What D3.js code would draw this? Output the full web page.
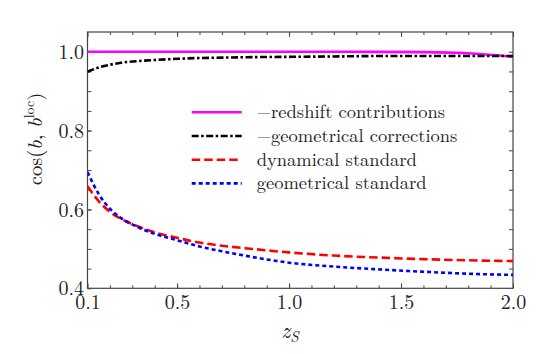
<!DOCTYPE html>
<html>
<head>
<meta charset="UTF-8" />
<script src="https://d3js.org/d3.v7.min.js"></script>
<style>
  body { margin: 0; background: #fff; }
</style>
</head>
<body>
<div id="chart"></div>
<script type="text/javascript">

// redshift of the source
var zS = [0.1, 0.15, 0.2, 0.25, 0.3, 0.4, 0.5, 0.6, 0.7, 0.8, 1.0, 1.2, 1.4, 1.6, 1.8, 2.0];

// series values
var redshiftContrib = [1.0, 1.0, 1.0, 1.0, 1.0, 1.0, 1.0, 1.0, 1.0, 1.0, 1.0, 0.9998, 0.9995, 0.999, 0.996, 0.987];
var geomCorrections = [0.949, 0.960, 0.967, 0.972, 0.975, 0.979, 0.982, 0.984, 0.985, 0.986, 0.987, 0.988, 0.989, 0.989, 0.989, 0.989];
var dynStandard     = [0.659, 0.621, 0.594, 0.576, 0.563, 0.542, 0.528, 0.516, 0.508, 0.502, 0.491, 0.483, 0.478, 0.474, 0.471, 0.469];
var geomStandard    = [0.695, 0.639, 0.602, 0.578, 0.562, 0.538, 0.522, 0.506, 0.494, 0.483, 0.465, 0.455, 0.448, 0.442, 0.437, 0.434];

var seriesNames = ["\u2212redshift contributions", "\u2212geometrical corrections", "dynamical standard", "geometrical standard"];

// tick labels
var xTickLabels = [0.1, 0.5, 1.0, 1.5, 2.0];
var yTickLabels = [0.4, 0.6, 0.8, 1.0];

var FONT = "'Latin Modern Roman', 'Liberation Serif', serif";

var margin = {top: 32, right: 33, bottom: 65.7, left: 87.5},
    width = 546 - margin.left - margin.right,
    height = 354 - margin.top - margin.bottom;

var svg = d3.select("div#chart")
  .append("svg")
    .attr("width", 546)
    .attr("height", 354)
  .append("g")
    .attr("transform", "translate(" + margin.left + "," + margin.top + ")");

var x = d3.scaleLinear().domain([0.1, 2.0]).range([0, width]);
var y = d3.scaleLinear().domain([0.4, 1.05]).range([height, 0]);

var axisColor = "#444";

// minor ticks
var xMinor = d3.range(2, 20).map(function(d) { return d / 10; });
var yMinor = d3.range(9, 21).map(function(d) { return d / 20; });

svg.append("g")
  .attr("transform", "translate(0," + height + ")")
  .call(d3.axisBottom(x).tickValues(xMinor).tickSize(-3).tickFormat(""));
svg.append("g")
  .call(d3.axisTop(x).tickValues(xMinor).tickSize(-3).tickFormat(""));
svg.append("g")
  .call(d3.axisLeft(y).tickValues(yMinor).tickSize(-4).tickFormat(""));
svg.append("g")
  .attr("transform", "translate(" + width + ",0)")
  .call(d3.axisRight(y).tickValues(yMinor).tickSize(-4).tickFormat(""));

// major ticks + labels
svg.append("g")
  .attr("class", "xaxis")
  .attr("transform", "translate(0," + height + ")")
  .call(d3.axisBottom(x).tickValues(xTickLabels).tickSize(-5).tickPadding(6).tickFormat(d3.format(".1f")));
svg.append("g")
  .call(d3.axisTop(x).tickValues(xTickLabels).tickSize(-5).tickFormat(""));
svg.append("g")
  .attr("class", "yaxis")
  .call(d3.axisLeft(y).tickValues(yTickLabels).tickSize(-4).tickPadding(3.5).tickFormat(d3.format(".1f")));

svg.selectAll(".domain").remove();
svg.selectAll(".tick line").attr("stroke", axisColor);
svg.selectAll(".tick text")
  .style("font-family", FONT)
  .style("font-size", "20px")
  .attr("fill", "#222");
svg.selectAll(".yaxis .tick text").attr("dy", "0.33em");

// frame
svg.append("rect")
  .attr("width", width)
  .attr("height", height)
  .attr("fill", "none")
  .attr("stroke", axisColor)
  .attr("stroke-width", 1.2);

svg.append("clipPath").attr("id", "clip")
  .append("rect").attr("width", width).attr("height", height);

var line = d3.line()
  .x(function(d) { return x(d[0]); })
  .y(function(d) { return y(d[1]); })
  .curve(d3.curveMonotoneX);

var series = [
  {name: seriesNames[0], values: redshiftContrib, color: "#ff00ff", dash: null},
  {name: seriesNames[1], values: geomCorrections, color: "#000000", dash: "7,2.5,2.5,2.5"},
  {name: seriesNames[2], values: dynStandard, color: "#ff0000", dash: "8.5,4"},
  {name: seriesNames[3], values: geomStandard, color: "#0000ff", dash: "4,3"}
];

svg.append("g").attr("clip-path", "url(#clip)")
  .selectAll("path")
  .data(series)
  .enter()
  .append("path")
    .attr("fill", "none")
    .attr("stroke", function(d) { return d.color; })
    .attr("stroke-width", 2.6)
    .attr("stroke-dasharray", function(d) { return d.dash; })
    .attr("d", function(d) { return line(zS.map(function(z, i) { return [z, d.values[i]]; })); });

// legend
var legend = svg.append("g")
  .attr("transform", "translate(" + (191.7 - margin.left) + "," + (112.3 - margin.top) + ")");
var rows = legend.selectAll("g")
  .data(series)
  .enter()
  .append("g")
    .attr("transform", function(d, i) { return "translate(0," + (i * 23.7) + ")"; });
rows.append("line")
  .attr("x1", 0).attr("x2", 50)
  .attr("stroke", function(d) { return d.color; })
  .attr("stroke-width", 2.6)
  .attr("stroke-dasharray", function(d) { return d.dash; });
var labels = rows.append("text")
  .attr("x", 65)
  .attr("y", 6)
  .style("font-family", FONT)
  .style("font-size", "18.5px")
  .attr("fill", "#222");
labels.each(function(d) {
  var t = d3.select(this);
  if (d.name.charAt(0) == "\u2212") {
    t.append("tspan").attr("fill", "#888").text("\u2212");
    t.append("tspan").text(d.name.slice(1));
  } else {
    t.text(d.name);
  }
});

// x label
var xl = svg.append("text")
  .attr("x", 290 - margin.left)
  .attr("y", 338 - margin.top)
  .attr("text-anchor", "middle")
  .style("font-family", FONT)
  .style("font-size", "22px")
  .attr("fill", "#222");
xl.append("tspan").style("font-style", "italic").text("z");
xl.append("tspan").style("font-style", "italic").style("font-size", "15px").attr("dy", 4).text("S");

// y label
var yl = svg.append("text")
  .attr("transform", "translate(" + (42 - margin.left) + "," + (139 - margin.top) + ")rotate(-90)")
  .attr("text-anchor", "middle")
  .style("font-family", FONT)
  .style("font-size", "20.5px")
  .attr("fill", "#222");
yl.append("tspan").text("cos(");
yl.append("tspan").style("font-style", "italic").text("b");
yl.append("tspan").text(", ");
yl.append("tspan").style("font-style", "italic").text("b");
yl.append("tspan").style("font-size", "14px").attr("dy", -8).text("loc");
yl.append("tspan").attr("dy", 8).text(")");

</script>
</body>
</html>
